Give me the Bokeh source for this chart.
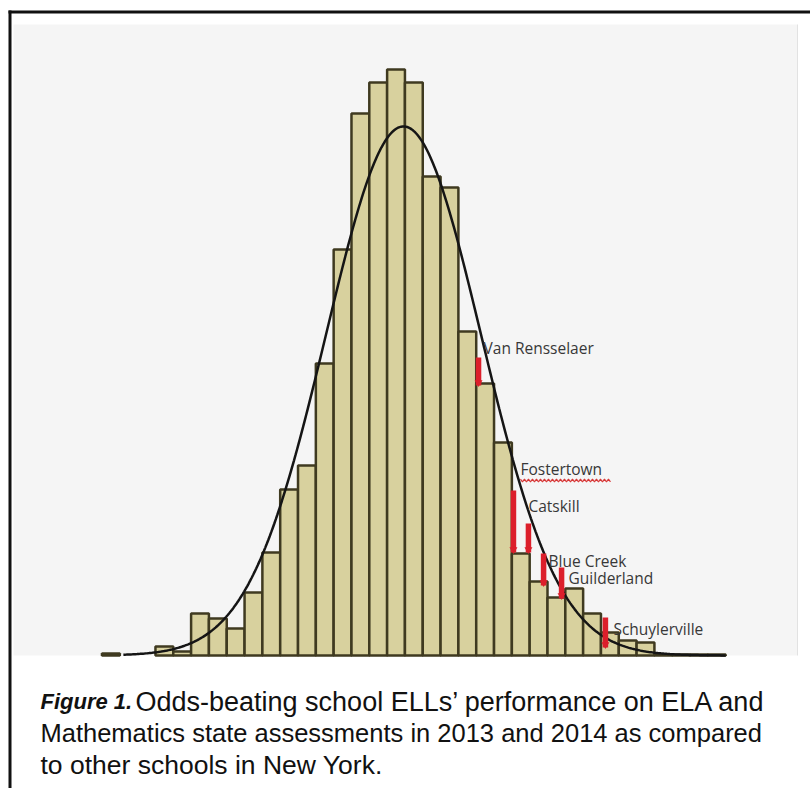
import numpy as np
from bokeh.plotting import figure
from bokeh.models import Range1d, ColumnDataSource
from bokeh.core.properties import value
from bokeh.embed import file_html
from bokeh.resources import INLINE

# ---------------- data ----------------
# histogram bin counts (bins of equal width, left to right)
counts = [2, 0, 0, 9, 4, 42, 37, 27, 63, 103, 166, 190, 292, 406, 542,
          573, 586, 573, 479, 468, 324, 272, 213, 102, 74, 58, 67, 42,
          23, 15, 13, 1, 1, 1, 1]
# fitted normal curve parameters (in bin units)
curve_mean = 16.92
curve_sd = 4.35

# odds-beating schools: position (bin units), value from -> to
schools = ["Van Rensselaer", "Fostertown", "Catskill", "Blue Creek",
           "Guilderland", "Schuylerville"]
school_x = [21.13, 23.09, 23.93, 24.78, 25.79, 28.25]
school_from = [298, 165, 132, 102, 88, 38]
school_to = [270, 103, 103, 70, 57, 8]

caption_bold = "Figure 1."
caption_lines = [
    "Odds-beating school ELLs\u2019 performance on ELA and",
    "Mathematics state assessments in 2013 and 2014 as compared",
    "to other schools in New York.",
]

# ---------------- layout helpers (picture pixels -> data) ----------------
BIN0_PX = 101.5
BIN_W = 17.82
BASE_PX = 655.0
W, H = 810, 788


def X(px):
    return (px - BIN0_PX) / BIN_W


def Y(py):
    return BASE_PX - py


p = figure(width=W, height=H, output_backend="svg", toolbar_location=None,
           x_range=Range1d(X(0), X(W)), y_range=Range1d(Y(H), Y(0)),
           x_axis_location=None, y_axis_location=None, tools="")
p.min_border = 0
p.min_border_left = p.min_border_right = 0
p.min_border_top = p.min_border_bottom = 0
p.outline_line_color = None
p.grid.visible = False
p.background_fill_color = "white"
p.border_fill_color = "white"

# outer frame lines (top and left)
p.line([X(8), X(W + 2)], [Y(11.5), Y(11.5)], line_color="#111111", line_width=3)
p.line([X(9.5), X(9.5)], [Y(10), Y(H + 2)], line_color="#111111", line_width=3)

# chart background panel
p.quad(left=X(13), right=X(797), bottom=Y(655), top=Y(24),
       fill_color="#f5f5f5", line_color=None)
p.line([X(797), X(797)], [Y(24), Y(655)], line_color="#e2e2e2", line_width=1)

# histogram bars
idx = [i for i, c in enumerate(counts) if c > 0]
bars = ColumnDataSource(dict(left=[i for i in idx], right=[i + 1 for i in idx],
                             top=[counts[i] for i in idx]))
p.quad(left="left", right="right", bottom=0, top="top", source=bars,
       fill_color="#d8d19e", line_color="#3f3a20", line_width=2.5)

# fitted normal curve
n_total = sum(counts)
xs = np.linspace(1.2, 35.0, 400)
ys = n_total / (curve_sd * np.sqrt(2 * np.pi)) * np.exp(-0.5 * ((xs - curve_mean) / curve_sd) ** 2)
p.line(xs, ys, line_color="#151515", line_width=2.5)

# school markers
src = ColumnDataSource(dict(x=school_x, y0=school_from, y1=school_to, name=schools,
                            tip=[v + 3 for v in school_to],
                            dx=[5, 7, 0, 5, 7, 8], dy=[-10, -22, -18, 7, 10, 11]))
p.segment(x0="x", y0="y0", x1="x", y1="y1", source=src,
          line_color="#dc1f2b", line_width=5.5)
p.scatter(x="x", y="tip", source=src, marker="inverted_triangle", size=8,
          fill_color="#dc1f2b", line_color=None)
p.text(x="x", y="y0", text="name", x_offset="dx", y_offset="dy", source=src,
       text_font=value("Open Sans"), text_font_size="15.5px",
       text_color="#383838", text_baseline="middle", text_align="left")

# spell-check squiggle under "Fostertown"
fx0 = school_x[1] + 7 / BIN_W
fx1 = school_x[1] + 99 / BIN_W
sq_x = np.arange(fx0, fx1, 2 / BIN_W)
sq_y = school_from[1] + 10 + np.where(np.arange(len(sq_x)) % 2 == 0, 1.3, -1.3)
p.line(sq_x, sq_y, line_color="#d83a3a", line_width=1.2)

# caption
p.text(x=[X(40)], y=[Y(701)], text=[caption_bold], text_font=value("Liberation Sans"),
       text_font_size="22px", text_font_style="bold italic", text_color="#111111",
       text_baseline="alphabetic")
p.text(x=[X(135)], y=[Y(701)], text=[caption_lines[0]],
       text_font=value("Liberation Sans"), text_font_size="27px",
       text_color="#111111", text_baseline="alphabetic")
p.text(x=[X(40)], y=[Y(732)], text=[caption_lines[1]],
       text_font=value("Liberation Sans"), text_font_size="25.5px",
       text_color="#111111", text_baseline="alphabetic")
p.text(x=[X(40)], y=[Y(764)], text=[caption_lines[2]],
       text_font=value("Liberation Sans"), text_font_size="26.5px",
       text_color="#111111", text_baseline="alphabetic")

open("out.html", "w").write(file_html(p, INLINE))
